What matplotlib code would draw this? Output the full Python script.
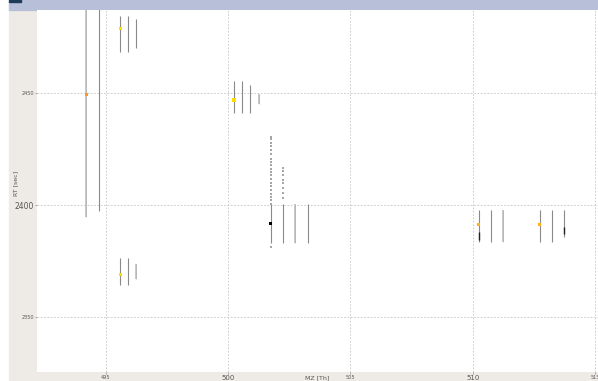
import numpy as np
import matplotlib
matplotlib.use('Agg')
import matplotlib.pyplot as plt
from matplotlib.patches import Rectangle

# isotope traces: m/z, RT start, RT end, intensity level (0..1)
trace_mz = [494.22, 494.74,
            495.60, 495.93, 496.26,
            500.25, 500.58, 500.91, 501.27,
            495.60, 495.93, 496.26,
            501.75, 502.25, 502.75, 503.27,
            510.25, 510.74, 511.24,
            512.74, 513.23, 513.75]
trace_rt_lo = [2395.0, 2397.6,
               2468.5, 2468.5, 2470.2,
               2441.2, 2441.2, 2441.2, 2445.2,
               2364.4, 2364.4, 2367.1,
               2383.3, 2383.3, 2383.3, 2383.3,
               2383.5, 2383.5, 2383.5,
               2383.5, 2383.5, 2385.8]
trace_rt_hi = [2495.0, 2495.0,
               2484.5, 2484.5, 2483.2,
               2455.5, 2455.5, 2453.7, 2449.7,
               2376.5, 2376.5, 2373.8,
               2400.6, 2400.6, 2400.6, 2400.6,
               2397.9, 2397.9, 2397.9,
               2397.9, 2397.9, 2397.9]
trace_int = [0.2, 0.6,
             0.6, 0.6, 0.6,
             0.6, 0.6, 0.6, 0.2,
             0.6, 0.6, 0.2,
             0.6, 0.6, 0.2, 0.6,
             0.6, 0.6, 0.2,
             0.6, 0.6, 0.6]

# high intensity stretches on some traces
hot_mz = [510.25, 513.75]
hot_rt_lo = [2384.5, 2387.2]
hot_rt_hi = [2388.1, 2390.3]

# feature centroids
feat_mz = [494.22, 495.60, 500.25, 495.60, 501.75, 510.25, 512.74]
feat_rt = [2449.4, 2478.8, 2447.0, 2369.3, 2391.7, 2391.3, 2391.6]
feat_col = ['#ff9a1a', '#ffdd00', '#ffdd00', '#ffdd00', '#000000', '#ffb020', '#ffb020']

# single raw peaks above the 501.75 / 502.25 traces
peak_mz = [501.75] * 21 + [502.25] * 8
peak_rt = [2430.6, 2429.4, 2427.9, 2426.5, 2424.6, 2422.8, 2420.9, 2419.4,
           2417.8, 2416.3, 2414.7, 2413.5, 2411.7, 2409.9, 2408.6, 2406.8,
           2404.9, 2403.8, 2402.4, 2400.6, 2381.4,
           2416.7, 2415.2, 2413.7, 2411.5, 2410.0, 2407.8, 2405.5, 2403.3]

xticks = [495, 500, 505, 510, 515]
yticks = [2350, 2400, 2450]

fig = plt.figure(figsize=(5.98, 3.81), dpi=100)
fig.patch.set_facecolor('white')

# window frame: grey panel and title bar
fig.patches.append(Rectangle((9 / 598, 1 / 381), 589 / 598, 370 / 381, transform=fig.transFigure,
                             color='#eeebe7', zorder=0))
fig.patches.append(Rectangle((9 / 598, 371 / 381), 589 / 598, 10 / 381, transform=fig.transFigure,
                             color='#b8bfd9', zorder=0))
fig.patches.append(Rectangle((9 / 598, 379 / 381), 12 / 598, 2 / 381, transform=fig.transFigure,
                             color='#1f3a5a', zorder=1))

ax = fig.add_axes([37 / 598, 9 / 381, 561 / 598, 362 / 381])
ax.set_zorder(5)
ax.set_facecolor('white')
for s in ax.spines.values():
    s.set_visible(False)

ax.set_xlim(492.2, 515.12)
ax.set_ylim(2325.6, 2487.2)
ax.set_xticks(xticks)
ax.set_yticks(yticks)
ax.grid(True, color='#c4c4c4', linestyle=(0, (2, 2)), linewidth=0.6)
ax.set_axisbelow(True)
ax.tick_params(length=1.5, width=0.5, color='#888888', labelcolor='#555555', pad=0.5)
for lab, v in zip(ax.get_xticklabels(), xticks):
    lab.set_fontsize(5.0 if v in (500, 510) else 3.6)
for lab, v in zip(ax.get_yticklabels(), yticks):
    lab.set_fontsize(5.5 if v == 2400 else 3.6)

ax.set_xlabel('MZ [Th]', fontsize=4.5, color='#555555')
ax.set_ylabel('RT [sec]', fontsize=4.5, color='#555555')
ax.xaxis.set_label_coords(0.5, -0.009)
ax.yaxis.set_label_coords(-0.033, 0.52)

# traces
for mz, lo, hi, it in zip(trace_mz, trace_rt_lo, trace_rt_hi, trace_int):
    if it < 0.5:
        ax.vlines(mz, lo, hi, color='#c8c8c8', linewidth=1.4, zorder=2)
        ax.vlines(mz, lo, hi, color='#acacac', linewidth=0.4, zorder=2)
    else:
        ax.vlines(mz, lo, hi, color='#8a8a8a', linewidth=0.8, zorder=2)
ax.vlines(hot_mz, hot_rt_lo, hot_rt_hi, color='#222222', linewidth=1.0, zorder=3)

ax.scatter(peak_mz, peak_rt, s=1.0, color='#a6a6a6', marker='s', linewidths=0, zorder=3)
ax.scatter(feat_mz, feat_rt, s=5, c=feat_col, marker='s', linewidths=0, zorder=4)

fig.savefig('out.png', dpi=100, facecolor=fig.get_facecolor())
